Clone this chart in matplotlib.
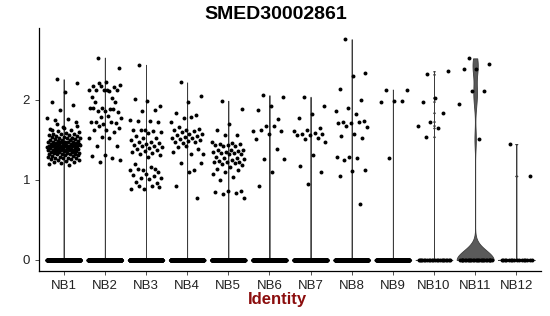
import numpy as np
import matplotlib.pyplot as plt

plt.rcParams['font.family'] = ['Liberation Sans', 'DejaVu Sans']

gene = "SMED30002861"
clusters = ["NB1", "NB2", "NB3", "NB4", "NB5", "NB6",
            "NB7", "NB8", "NB9", "NB10", "NB11", "NB12"]

# number of cells with zero expression per cluster
zero_counts = [400, 450, 400, 380, 350, 300, 300, 300, 250, 22, 26, 16]

# non-zero expression values per cluster
nb1 = [2.26, 2.21, 2.10, 1.97, 1.94, 1.88, 1.78, 1.76, 1.75, 1.73,
       1.66, 1.64, 1.62, 1.61, 1.60, 1.59, 1.58, 1.58, 1.57, 1.56, 1.56, 1.55,
       1.55, 1.54, 1.54, 1.53, 1.53, 1.52, 1.52, 1.51, 1.51, 1.50, 1.50, 1.50,
       1.49, 1.49, 1.48, 1.48, 1.48, 1.47, 1.47, 1.47, 1.46, 1.46, 1.46, 1.45,
       1.45, 1.45, 1.45, 1.44, 1.44, 1.44, 1.43, 1.43, 1.43, 1.43, 1.42, 1.42,
       1.42, 1.42, 1.41, 1.41, 1.41, 1.40, 1.40, 1.40, 1.40, 1.39, 1.39, 1.39,
       1.38, 1.38, 1.38, 1.37, 1.37, 1.37, 1.36, 1.36, 1.36, 1.35, 1.35, 1.35,
       1.34, 1.34, 1.34, 1.33, 1.33, 1.33, 1.32, 1.32, 1.31, 1.31, 1.30, 1.30,
       1.29, 1.29, 1.28, 1.28, 1.27, 1.27, 1.26, 1.26, 1.25, 1.25, 1.24, 1.23,
       1.22, 1.21, 1.20, 1.19, 1.70, 1.68, 1.65, 1.63, 1.52, 1.47, 1.44, 1.41,
       1.39, 1.36]
nb2 = [2.53, 2.40, 2.22, 2.17, 2.16, 2.18, 2.12, 2.11, 2.13, 2.13, 2.12, 2.04,
       2.02, 2.21, 2.19, 2.12, 1.98, 1.98, 1.90, 1.90, 1.89, 1.86, 1.85, 1.86,
       1.90, 1.89, 1.79, 1.78, 1.80, 1.72, 1.71, 1.70, 1.73, 1.72, 1.67, 1.65,
       1.62, 1.62, 1.60, 1.54, 1.53, 1.52, 1.42, 1.42, 1.31, 1.30, 1.28, 1.22,
       1.25]
nb3 = [2.44, 1.92, 1.99, 2.01, 1.87, 1.86, 1.75, 1.74, 1.74, 1.73, 1.62, 1.63,
       1.61, 1.62, 1.60, 1.59, 1.55, 1.53, 1.52, 1.50, 1.48, 1.47, 1.46, 1.45,
       1.44, 1.43, 1.42, 1.41, 1.40, 1.39, 1.38, 1.36, 1.35, 1.34, 1.33, 1.31,
       1.29, 1.20, 1.14, 1.13, 1.12, 1.16, 1.14, 1.10, 1.08, 1.06, 1.05, 1.03,
       1.02, 1.01, 0.97, 0.96, 0.89, 0.89, 0.93, 0.92, 0.91]
nb4 = [2.22, 2.05, 1.98, 1.84, 1.81, 1.77, 1.73, 1.79, 1.66, 1.64, 1.63, 1.62,
       1.61, 1.60, 1.58, 1.57, 1.56, 1.55, 1.54, 1.53, 1.52, 1.51, 1.50, 1.49,
       1.48, 1.47, 1.46, 1.33, 1.32, 1.41, 1.39, 1.42, 1.35, 1.12, 1.21, 1.21,
       1.10, 0.92, 0.77]
nb5 = [1.99, 1.89, 1.70, 1.63, 1.56, 1.56, 1.47, 1.46, 1.45, 1.45, 1.44, 1.44,
       1.43, 1.43, 1.38, 1.37, 1.37, 1.36, 1.35, 1.35, 1.34, 1.34, 1.33, 1.33,
       1.29, 1.28, 1.27, 1.26, 1.25, 1.24, 1.23, 1.22, 1.22, 1.21, 1.20, 1.19,
       1.16, 1.14, 1.12, 1.10, 1.07, 1.04, 1.00, 0.86, 0.86, 0.85, 0.84, 0.83,
       0.77]
nb6 = [2.06, 2.04, 1.92, 1.88, 1.76, 1.67, 1.61, 1.67, 1.62, 1.61, 1.57, 1.51,
       1.39, 1.26, 1.26, 1.10, 0.92]
nb7 = [2.04, 1.92, 1.83, 1.77, 1.65, 1.63, 1.61, 1.59, 1.58, 1.58, 1.56, 1.56,
       1.53, 1.51, 1.47, 1.31, 1.17, 1.10, 0.95]
nb8 = [2.76, 2.34, 2.30, 2.14, 2.00, 1.90, 1.86, 1.82, 1.73, 1.74, 1.71, 1.71,
       1.72, 1.68, 1.66, 1.58, 1.55, 1.52, 1.29, 1.29, 1.28, 1.25, 1.12, 1.11,
       1.05, 0.70]
nb9 = [2.13, 2.13, 1.99, 1.98, 1.99, 1.28]
nb10 = [2.32, 2.36, 2.03, 1.98, 1.84, 1.73, 1.68, 1.65, 1.54]
nb11 = [2.52, 2.45, 2.39, 2.39, 2.11, 2.11, 1.95, 1.51]
nb12 = [1.45, 1.05]

expr = [nb1, nb2, nb3, nb4, nb5, nb6, nb7, nb8, nb9, nb10, nb11, nb12]
bandwidths = [0.005] * 10 + [0.12, 0.005]


def jitter(n, width=0.4, start=0.3):
    # deterministic spread of horizontal offsets
    return ((np.arange(n) * 0.6180339887 + start) % 1 - 0.5) * 2 * width


fig = plt.figure(figsize=(5.5, 3.16), dpi=100)
ax = fig.add_axes([0.0709, 0.1424, 0.9127, 0.7686])

for i, (vals, nz, bw) in enumerate(zip(expr, zero_counts, bandwidths)):
    x = i + 1
    allv = np.array([0.0] * nz + vals)
    grid = np.linspace(0, allv.max(), 3000)
    dens = np.exp(-0.5 * ((grid[:, None] - allv[None, :]) / bw) ** 2).sum(axis=1)
    half = 0.45 * dens / dens.max()
    ax.fill_betweenx(grid, x - half, x + half, facecolor='#5a5a5a',
                     edgecolor='#3c3c3c', linewidth=0.6, zorder=1)
    # points
    ax.scatter(x + jitter(nz, start=0.11), np.zeros(nz), s=8, c='black',
               linewidths=0, zorder=3)
    ax.scatter(x + jitter(len(vals)), vals, s=8, c='black', linewidths=0, zorder=3)

ax.set_xlim(0.4, 12.6)
ax.set_ylim(-0.138, 2.898)
ax.set_xticks(range(1, len(clusters) + 1))
ax.set_xticklabels(clusters)
ax.set_yticks([0, 1, 2])
ax.tick_params(labelsize=9.5, length=3, width=0.6, colors='#333333',
               labelcolor='#222222')
for side in ['top', 'right']:
    ax.spines[side].set_visible(False)
for side in ['left', 'bottom']:
    ax.spines[side].set_linewidth(0.9)

fig.text(0.502, 0.955, gene, ha='center', va='center', fontsize=14,
         fontweight='bold')
fig.text(0.504, 0.053, "Identity", ha='center', va='center', fontsize=12,
         fontweight='bold', color='#8b0d0d')

fig.savefig('out.png', dpi=100)
